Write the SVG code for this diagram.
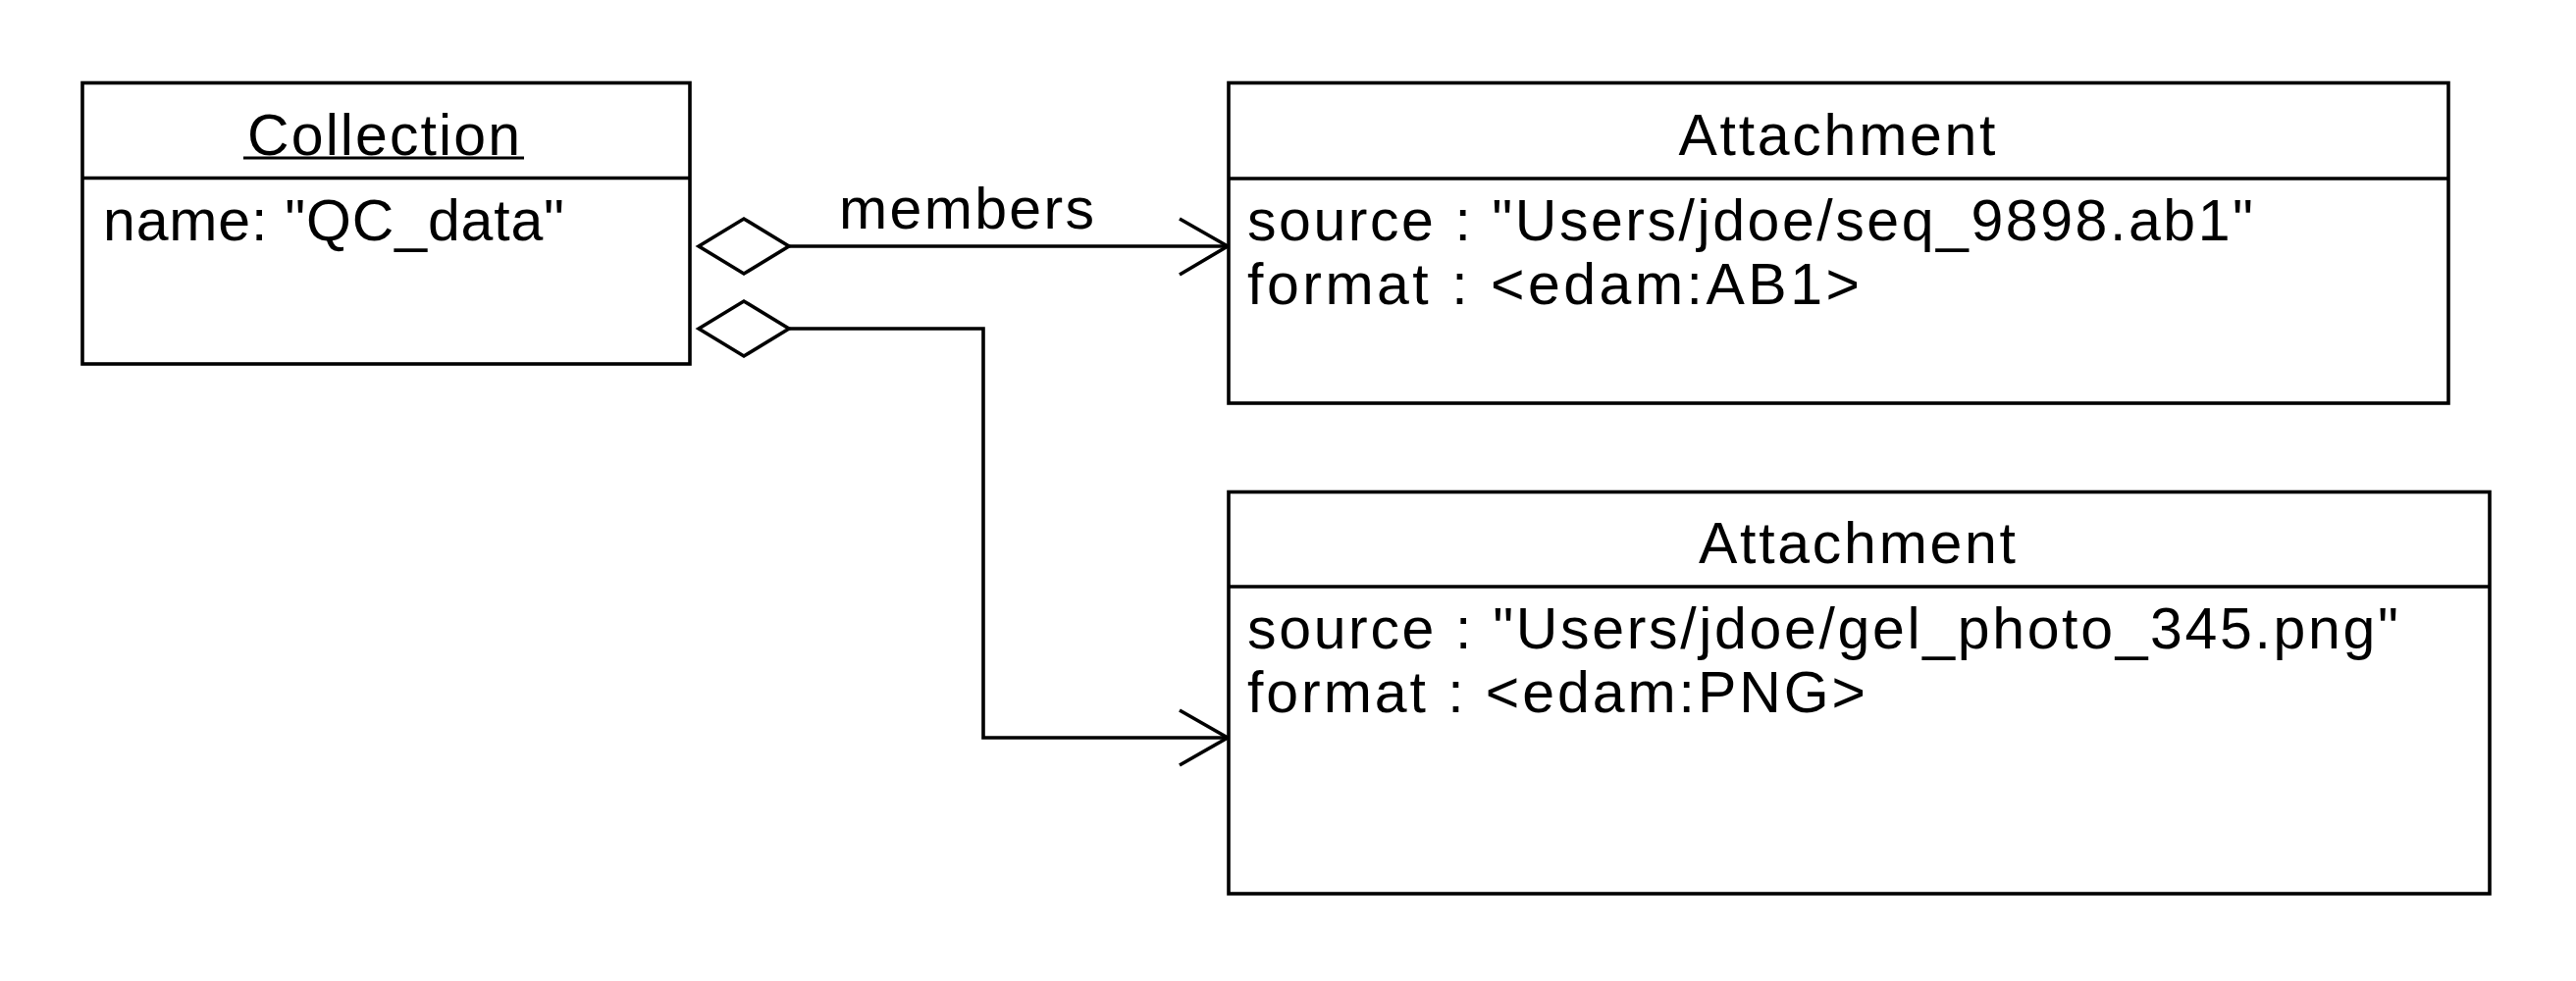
<svg xmlns="http://www.w3.org/2000/svg" width="2625" height="1000" viewBox="0 0 2625 1000">
  <style>
    .box { fill: #ffffff; stroke: #000000; stroke-width: 3.6; }
    .div { stroke: #000000; stroke-width: 3.6; fill: none; }
    .edge { stroke: #000000; stroke-width: 3.6; fill: none; }
    .dia { fill: #ffffff; stroke: #000000; stroke-width: 3.6; }
    text { font-family: "Liberation Sans", Arial, Helvetica, sans-serif; font-size: 59px; fill: #000000; }
    .c { text-anchor: middle; }
  </style>
  <rect width="2625" height="1000" fill="#ffffff"/>

  <g id="connectors">
    <g id="edge-members">
      <path class="edge" d="M804,251 H1250"/>
      <polygon class="dia" points="712,251 758,223 804,251 758,279"/>
      <polyline class="edge" points="1202,223 1251,251 1202,280"/>
      <text x="855" y="233" textLength="260" lengthAdjust="spacing">members</text>
    </g>
    <g id="edge-2">
      <path class="edge" d="M804,335 H1002 V752 H1250"/>
      <polygon class="dia" points="712,335 758,307 804,335 758,363"/>
      <polyline class="edge" points="1202,724 1251,752 1202,780"/>
    </g>
  </g>

  <g id="collection">
    <rect class="box" x="84" y="84.5" width="619" height="286.5"/>
    <line class="div" x1="84" y1="181.5" x2="703" y2="181.5"/>
    <text x="391" y="157.5" class="c" textLength="278" lengthAdjust="spacing">Collection</text>
    <line x1="248" y1="161" x2="534" y2="161" stroke="#000000" stroke-width="2.8"/>
    <text x="105" y="245" textLength="470" lengthAdjust="spacing">name: "QC_data"</text>
  </g>

  <g id="attachment-1">
    <rect class="box" x="1252" y="84.5" width="1243" height="326.5"/>
    <line class="div" x1="1252" y1="182" x2="2495" y2="182"/>
    <text x="1872" y="157.5" class="c" textLength="323" lengthAdjust="spacing">Attachment</text>
    <text x="1271" y="244.5" textLength="1025" lengthAdjust="spacing">source : "Users/jdoe/seq_9898.ab1"</text>
    <text x="1271" y="309.5" textLength="624" lengthAdjust="spacing">format : &lt;edam:AB1&gt;</text>
  </g>

  <g id="attachment-2">
    <rect class="box" x="1252" y="501.5" width="1285" height="409.5"/>
    <line class="div" x1="1252" y1="598" x2="2537" y2="598"/>
    <text x="1892.5" y="574" class="c" textLength="323" lengthAdjust="spacing">Attachment</text>
    <text x="1271" y="661" textLength="1173" lengthAdjust="spacing">source : "Users/jdoe/gel_photo_345.png"</text>
    <text x="1271" y="726" textLength="630" lengthAdjust="spacing">format : &lt;edam:PNG&gt;</text>
  </g>
</svg>
